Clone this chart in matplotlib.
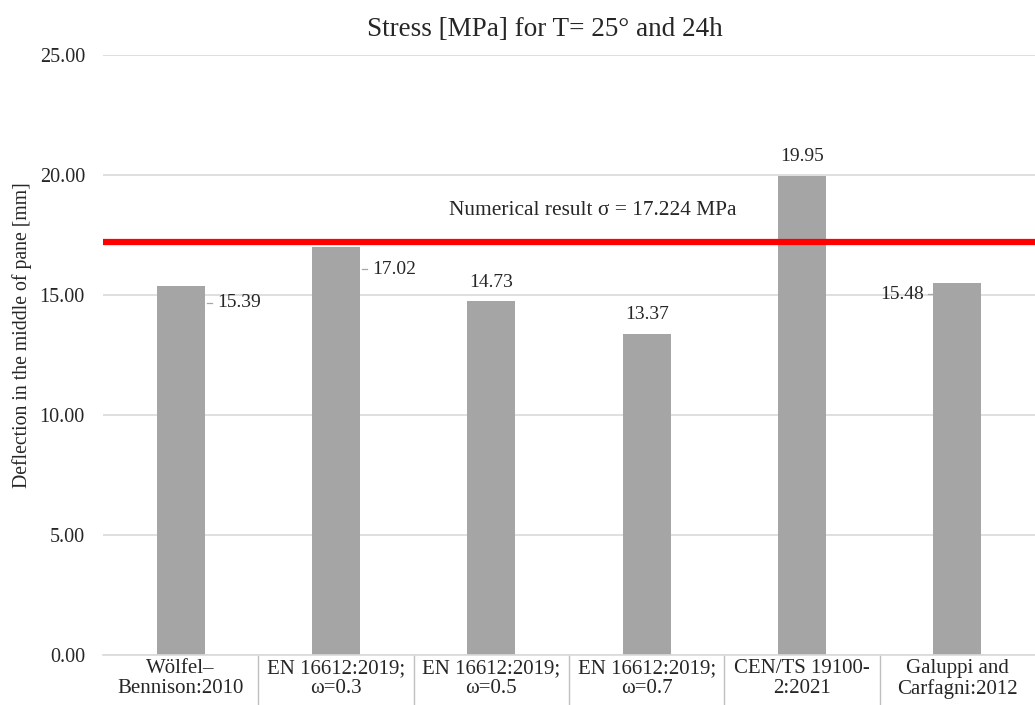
import matplotlib
matplotlib.use("Agg")
import matplotlib.pyplot as plt

plt.rcParams['font.family'] = ['Liberation Serif', 'DejaVu Serif']

categories = ["Wölfel–\nBennison:2010", "EN 16612:2019;\nω=0.3", "EN 16612:2019;\nω=0.5",
              "EN 16612:2019;\nω=0.7", "CEN/TS 19100-\n2:2021", "Galuppi and\nCarfagni:2012"]
values = [15.39, 17.02, 14.73, 13.37, 19.95, 15.48]
numerical_result = 17.224
yticks = [0, 5, 10, 15, 20, 25]

# label placement per bar: side and vertical shift of the label relative to the bar top
label_side = ["right", "right", "top", "top", "top", "left"]
label_shift = [-0.72, -0.95, 0.45, 0.45, 0.45, -0.45]

bar_color = "#A5A5A5"
grid_color = "#D9D9D9"
text_color = "#262626"
W, H = 1035, 705

fig = plt.figure(figsize=(W / 100, H / 100), dpi=100)
ax = fig.add_axes([103 / W, 50 / H, (W - 103) / W, 600 / H])

x = list(range(len(categories)))
ax.bar(x, values, width=0.31, color=bar_color, zorder=2)

ax.set_xlim(-0.5, len(categories) - 0.5)
ax.set_ylim(0, 25)
ax.set_yticks(yticks)
ax.set_yticklabels([f"{v:.2f}" for v in yticks], fontsize=14.5, color=text_color)
ax.yaxis.grid(True, color=grid_color, linewidth=1.2, zorder=0)
ax.set_axisbelow(True)

for s in ["top", "right", "left"]:
    ax.spines[s].set_visible(False)
ax.spines["bottom"].set_color(grid_color)
ax.spines["bottom"].set_linewidth(1.2)

ax.set_xticks(x)
ax.set_xticklabels(categories, fontsize=15, color=text_color, linespacing=1.05)
ax.tick_params(axis="x", which="major", length=0, pad=3)
ax.tick_params(axis="y", length=0, pad=13)
ax.set_xticks([i + 0.5 for i in x[:-1]], minor=True)
ax.tick_params(axis="x", which="minor", length=37, color="#BFBFBF", width=1.0)

fig.text(22 / W, 1 - 335 / H, "Deflection in the middle of pane [mm]", rotation=90,
         ha="center", va="center", fontsize=14.2, color=text_color)

# reference line from the numerical model
ax.axhline(numerical_result, color="#FF0000", linewidth=4.5, zorder=3)
ax.text(2.65, numerical_result + 1.3, f"Numerical result σ = {numerical_result} MPa",
        ha="center", va="center", fontsize=15.4, color=text_color)

# value labels with short leader lines
for xi, v, side, dy in zip(x, values, label_side, label_shift):
    ly = v + dy
    if side == "top":
        ax.text(xi, ly, f"{v:.2f}", ha="center", va="bottom", fontsize=14, color=text_color)
    elif side == "right":
        ax.plot([xi + 0.17, xi + 0.2], [ly, ly], color="#A6A6A6", linewidth=0.9, zorder=3)
        ax.text(xi + 0.235, ly, f"{v:.2f}", ha="left", va="center", fontsize=14, color=text_color)
    else:
        ax.plot([xi - 0.155, xi - 0.19], [ly, ly], color="#A6A6A6", linewidth=0.9, zorder=3)
        ax.text(xi - 0.215, ly, f"{v:.2f}", ha="right", va="center", fontsize=14, color=text_color)

fig.text(545 / W, 1 - 30 / H, "Stress [MPa] for T= 25° and 24h", ha="center", va="center",
         fontsize=19.5, color=text_color)

fig.savefig("out.png", dpi=100, facecolor="white")
